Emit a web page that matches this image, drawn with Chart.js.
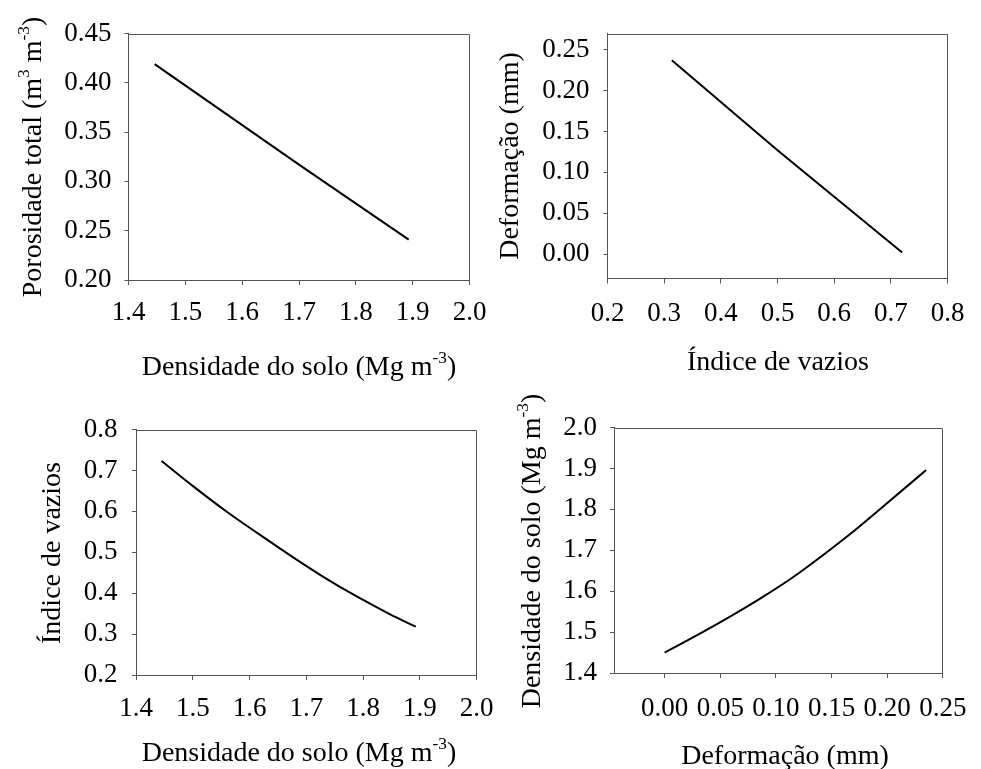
<!DOCTYPE html>
<html>
<head>
<meta charset="utf-8">
<script src="https://cdn.jsdelivr.net/npm/chart.js@4"></script>
<style>
  html, body { margin: 0; padding: 0; background: #fff; }
  #wrap { position: relative; width: 981px; height: 769px; overflow: hidden; background: #fff; }
  #wrap canvas { position: absolute; left: 0; top: 0; }
</style>
</head>
<body>
<div id="wrap">
  <canvas id="c1" width="981" height="769"></canvas>
  <canvas id="c2" width="981" height="769"></canvas>
  <canvas id="c3" width="981" height="769"></canvas>
  <canvas id="c4" width="981" height="769"></canvas>
</div>
<script>
// ---- data ----
// Porosidade total vs densidade do solo
const porDensidade = [1.446, 1.700, 1.893];
const porosidade   = [0.419, 0.317, 0.241];
// Deformação vs índice de vazios
const defIndice    = [0.3135, 0.500, 0.720];
const deformacao   = [0.2373, 0.127, 0.0018];
// Índice de vazios vs densidade do solo
const indDensidade = [1.445, 1.501, 1.560, 1.618, 1.671, 1.730, 1.789, 1.847, 1.893];
const indiceVazios = [0.723, 0.661, 0.599, 0.543, 0.493, 0.440, 0.392, 0.349, 0.318];
// Densidade do solo vs deformação
const densDeformacao = [0.000, 0.0288, 0.0576, 0.0865, 0.1153, 0.1398, 0.1701, 0.199, 0.235];
const densidadeSolo  = [1.450, 1.492, 1.536, 1.583, 1.634, 1.683, 1.747, 1.813, 1.896];

// ---- tick values ----
const ticksDensidade  = [1.4, 1.5, 1.6, 1.7, 1.8, 1.9, 2.0];
const ticksPorosidade = [0.20, 0.25, 0.30, 0.35, 0.40, 0.45];
const ticksIndice     = [0.2, 0.3, 0.4, 0.5, 0.6, 0.7, 0.8];
const ticksDeformacao = [0.00, 0.05, 0.10, 0.15, 0.20, 0.25];

const FONT = "'Liberation Serif', 'Times New Roman', serif";
const TICK_SIZE = 27;
const TITLE_SIZE = 28;
const AXIS_COLOR = '#555';
const YW = 100, XH = 80;   // fixed axis box sizes

function pairs(xs, ys) { return xs.map((x, i) => ({ x: x, y: ys[i] })); }

// draws text runs, some raised as superscripts, starting at (x, 0)
function drawRuns(ctx, runs, x) {
  runs.forEach(r => {
    const size = r.sup ? TITLE_SIZE * 0.62 : TITLE_SIZE;
    ctx.font = size + 'px ' + FONT;
    ctx.fillText(r.t, x, r.sup ? -TITLE_SIZE * 0.42 : 0);
    x += ctx.measureText(r.t).width;
  });
}
function runsWidth(ctx, runs) {
  let w = 0;
  runs.forEach(r => {
    ctx.font = (r.sup ? TITLE_SIZE * 0.62 : TITLE_SIZE) + 'px ' + FONT;
    w += ctx.measureText(r.t).width;
  });
  return w;
}

function framePlugin() {
  return {
    id: 'frame',
    afterDraw(chart) {
      const { ctx, chartArea: a } = chart;
      ctx.save();
      ctx.strokeStyle = AXIS_COLOR;
      ctx.lineWidth = 1;
      ctx.beginPath();
      const t = Math.round(a.top) + 0.5, r = Math.round(a.right) - 0.5;
      ctx.moveTo(Math.round(a.left), t);
      ctx.lineTo(r, t);
      ctx.lineTo(r, Math.round(a.bottom));
      ctx.stroke();
      ctx.restore();
    }
  };
}

function titlePlugin(t) {
  return {
    id: 'axisTitles',
    afterDraw(chart) {
      const ctx = chart.ctx;
      ctx.save();
      ctx.fillStyle = '#000';
      ctx.textBaseline = 'alphabetic';
      ctx.textAlign = 'left';
      // horizontal title
      let w = runsWidth(ctx, t.xRuns);
      ctx.save();
      ctx.translate(t.xCenter - w / 2, t.xBase);
      drawRuns(ctx, t.xRuns, 0);
      ctx.restore();
      // vertical title
      w = runsWidth(ctx, t.yRuns);
      ctx.save();
      ctx.translate(t.yBase, t.yCenter);
      ctx.rotate(-Math.PI / 2);
      drawRuns(ctx, t.yRuns, -w / 2);
      ctx.restore();
      ctx.restore();
    }
  };
}

function axis(min, max, tickVals, digits, tickLen, pad, isY) {
  return {
    type: 'linear',
    min: min,
    max: max,
    afterBuildTicks: s => { s.ticks = tickVals.map(v => ({ value: v })); },
    afterFit: s => { if (isY) s.width = YW; else s.height = XH; },
    ticks: {
      color: '#000',
      padding: pad,
      font: { family: FONT, size: TICK_SIZE },
      maxRotation: 0,
      autoSkip: false,
      callback: v => Number(v).toFixed(digits)
    },
    grid: { display: true, drawOnChartArea: false, drawTicks: true, tickLength: tickLen, color: AXIS_COLOR, lineWidth: 1 },
    border: { display: true, color: AXIS_COLOR, width: 1 }
  };
}

function panel(id, area, xs, ys, curved, xAx, yAx, titles) {
  new Chart(document.getElementById(id), {
    type: 'line',
    data: {
      datasets: [{
        data: pairs(xs, ys),
        borderColor: '#000',
        borderWidth: 2,
        pointRadius: 0,
        fill: false,
        tension: curved ? 0.4 : 0,
        cubicInterpolationMode: curved ? 'monotone' : 'default'
      }]
    },
    options: {
      responsive: false,
      animation: false,
      devicePixelRatio: 1,
      events: [],
      layout: {
        padding: {
          left: area.left - YW,
          right: 981 - area.right,
          top: area.top,
          bottom: 769 - area.bottom - XH
        }
      },
      plugins: { legend: { display: false }, tooltip: { enabled: false }, title: { display: false } },
      scales: { x: xAx, y: yAx }
    },
    plugins: [framePlugin(), titlePlugin(titles)]
  });
}

const densTitle = [{ t: 'Densidade do solo (Mg m' }, { t: '-3', sup: true }, { t: ')' }];
const defTitle = [{ t: 'Deformação (mm)' }];
const indTitle = [{ t: 'Índice de vazios' }];
const porTitle = [{ t: 'Porosidade total (m' }, { t: '3', sup: true }, { t: ' m' }, { t: '-3', sup: true }, { t: ')' }];

panel('c1', { left: 128.5, right: 469.5, top: 33.5, bottom: 280 },
  porDensidade, porosidade, false,
  axis(1.4, 2.0, ticksDensidade, 1, 5, 12, false),
  axis(0.20, 0.45, ticksPorosidade, 2, 4, 13, true),
  { xRuns: densTitle, xCenter: 299, xBase: 375, yRuns: porTitle, yCenter: 157, yBase: 41 });

panel('c2', { left: 607.5, right: 947.5, top: 33.5, bottom: 278.5 },
  defIndice, deformacao, false,
  axis(0.2, 0.8, ticksIndice, 1, 5, 14, false),
  axis(-0.03, 0.27, ticksDeformacao, 2, 4, 14, true),
  { xRuns: indTitle, xCenter: 778, xBase: 370, yRuns: defTitle, yCenter: 156, yBase: 518 });

panel('c3', { left: 136, right: 476.5, top: 429.5, bottom: 675 },
  indDensidade, indiceVazios, true,
  axis(1.4, 2.0, ticksDensidade, 1, 5, 13, false),
  axis(0.2, 0.8, ticksIndice, 1, 4, 14.5, true),
  { xRuns: densTitle, xCenter: 299, xBase: 760.5, yRuns: indTitle, yCenter: 553, yBase: 60 });

panel('c4', { left: 614, right: 955.5, top: 427.5, bottom: 673 },
  densDeformacao, densidadeSolo, true,
  axis(-0.0455, 0.25, ticksDeformacao, 2, 5, 14.5, false),
  axis(1.4, 2.0, ticksDensidade, 1, 4, 13, true),
  { xRuns: defTitle, xCenter: 785, xBase: 764, yRuns: densTitle, yCenter: 551, yBase: 540 });
</script>
</body>
</html>
